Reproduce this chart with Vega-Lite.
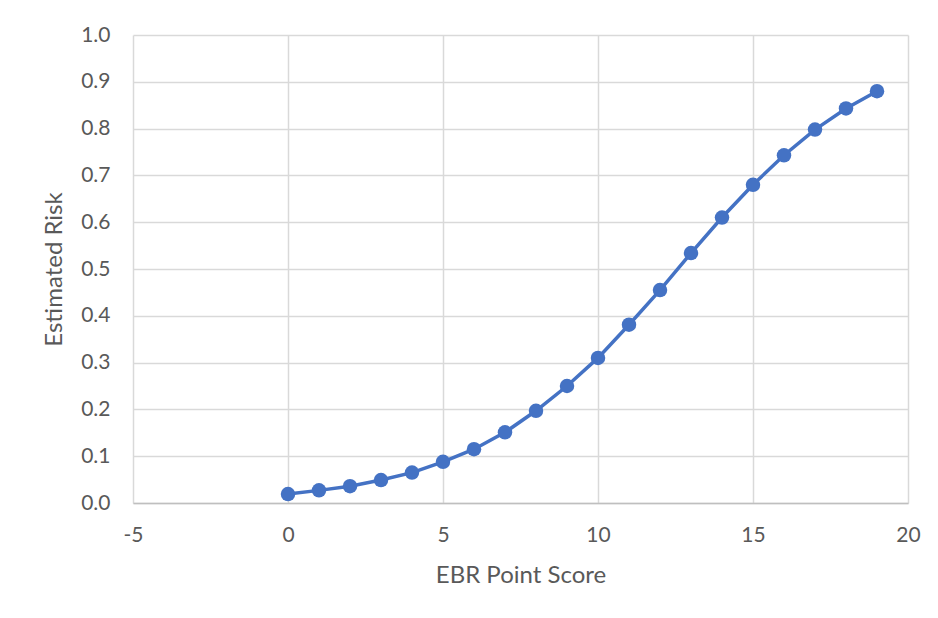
{
  "$schema": "https://vega.github.io/schema/vega-lite/v6.json",
  "width": 775,
  "height": 468,
  "autosize": "none",
  "padding": {"left": 133, "top": 35, "right": 30, "bottom": 115},
  "background": "white",
  "config": {
    "view": {"stroke": null},
    "font": "Lato",
    "axis": {
      "labelFont": "Lato",
      "titleFont": "Lato",
      "labelColor": "#595959",
      "titleColor": "#595959",
      "labelFontSize": 21,
      "titleFontSize": 24,
      "titleFontWeight": "normal",
      "gridColor": "#d9d9d9",
      "gridWidth": 1.5,
      "ticks": false
    }
  },
  "data": {
    "values": [
      {"score": 0, "risk": 0.019},
      {"score": 1, "risk": 0.027},
      {"score": 2, "risk": 0.036},
      {"score": 3, "risk": 0.049},
      {"score": 4, "risk": 0.065},
      {"score": 5, "risk": 0.088},
      {"score": 6, "risk": 0.115},
      {"score": 7, "risk": 0.151},
      {"score": 8, "risk": 0.197},
      {"score": 9, "risk": 0.25},
      {"score": 10, "risk": 0.31},
      {"score": 11, "risk": 0.381},
      {"score": 12, "risk": 0.455},
      {"score": 13, "risk": 0.534},
      {"score": 14, "risk": 0.61},
      {"score": 15, "risk": 0.68},
      {"score": 16, "risk": 0.743},
      {"score": 17, "risk": 0.798},
      {"score": 18, "risk": 0.843},
      {"score": 19, "risk": 0.88}
    ]
  },
  "encoding": {
    "x": {
      "field": "score",
      "type": "quantitative",
      "scale": {"domain": [-5, 20], "nice": false, "zero": false},
      "axis": {
        "title": "EBR Point Score",
        "values": [-5, 0, 5, 10, 15, 20],
        "labelExpr": "'' + datum.value",
        "grid": true,
        "domain": true,
        "domainColor": "#bfbfbf",
        "domainWidth": 1.5,
        "labelPadding": 21,
        "titlePadding": 18,
        "labelFlush": false
      }
    },
    "y": {
      "field": "risk",
      "type": "quantitative",
      "scale": {"domain": [0, 1], "nice": false},
      "axis": {
        "title": "Estimated Risk",
        "values": [0, 0.1, 0.2, 0.3, 0.4, 0.5, 0.6, 0.7, 0.8, 0.9, 1.0],
        "format": ".1f",
        "grid": true,
        "domain": false,
        "labelPadding": 23,
        "titlePadding": 14,
        "labelFlush": false
      }
    }
  },
  "layer": [
    {"mark": {"type": "line", "color": "#4472C4", "strokeWidth": 3.5}},
    {"mark": {"type": "point", "filled": true, "size": 210, "color": "#4472C4", "opacity": 1}}
  ]
}
